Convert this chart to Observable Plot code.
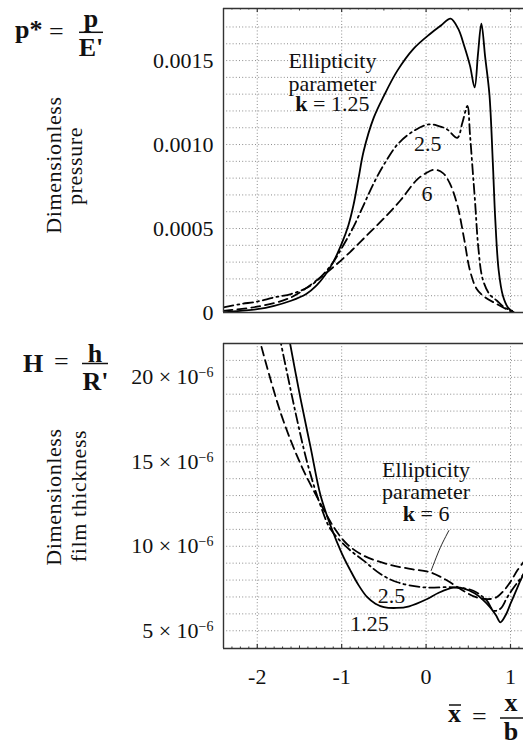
<!DOCTYPE html>
<html><head><meta charset="utf-8">
<script src="https://cdn.jsdelivr.net/npm/d3@7"></script>
<script src="https://cdn.jsdelivr.net/npm/@observablehq/plot@0.6"></script>
<style>
html,body{margin:0;padding:0;background:#fff}
#wrap{position:relative;width:523px;height:745px;overflow:hidden;background:#fff;font-family:"Liberation Serif","Times New Roman",serif}
#wrap svg{position:absolute;left:0}
#wrap svg text{font-family:"Liberation Serif","Times New Roman",serif}
</style></head><body><div id="wrap"></div>
<script>
// ---------- Dimensionless pressure p* vs x̄ ----------
const pX125 = [-2.40,-2.2,-2.0,-1.8,-1.6,-1.42,-1.3,-1.2,-1.1,-1.0,-0.92,-0.86,-0.80,-0.74,-0.62,-0.50,-0.34,-0.15,0.05,0.18,0.29,0.38,0.45,0.52,0.575,0.615,0.655,0.70,0.75,0.79,0.82,0.86,0.91,0.97,1.04];
const pY125 = [0,0.00001,0.00002,0.00004,0.00007,0.00011,0.00016,0.00022,0.00030,0.00041,0.00052,0.00064,0.00080,0.00096,0.00116,0.00129,0.00144,0.00157,0.00166,0.00171,0.00175,0.00169,0.00159,0.00147,0.00134,0.00154,0.00172,0.00152,0.00130,0.00090,0.00055,0.00025,0.00010,0.00003,0];
const pX25 = [-2.40,-2.2,-2.0,-1.8,-1.6,-1.4,-1.25,-1.1,-0.98,-0.86,-0.74,-0.62,-0.50,-0.34,-0.15,0.03,0.15,0.25,0.37,0.43,0.49,0.52,0.55,0.58,0.62,0.67,0.75,0.84,0.93,1.02];
const pY25 = [0.00003,0.00005,0.000065,0.00009,0.00011,0.00015,0.00021,0.00030,0.00040,0.00051,0.00064,0.00077,0.00088,0.00100,0.00108,0.00112,0.00111,0.00109,0.00104,0.00113,0.00123,0.00106,0.00086,0.00066,0.00038,0.00020,0.00011,0.00007,0.00003,0.00001];
const pX6 = [-2.40,-2.0,-1.6,-1.3,-1.1,-0.9,-0.7,-0.5,-0.3,-0.11,0.0,0.1,0.2,0.28,0.37,0.45,0.52,0.60,0.70,0.84,0.95,1.04];
const pY6 = [0.00001,0.000035,0.00009,0.00019,0.00027,0.00036,0.00046,0.00056,0.00067,0.00079,0.00083,0.00085,0.00083,0.00077,0.00064,0.00044,0.00025,0.00014,0.00009,0.00005,0.00002,0];

// ---------- Dimensionless film thickness H (×10⁻⁶) vs x̄ ----------
const hX125 = [-1.63,-1.49,-1.37,-1.25,-1.13,-1.0,-0.9,-0.8,-0.7,-0.6,-0.5,-0.35,-0.2,0.0,0.15,0.32,0.45,0.58,0.68,0.76,0.83,0.88,0.94,1.0,1.06,1.12,1.16];
const hY125 = [22.5,18.8,15.9,13.0,11.2,9.6,8.6,7.7,7.0,6.6,6.4,6.35,6.45,6.85,7.25,7.55,7.5,7.2,6.8,6.38,5.9,5.5,5.9,6.6,7.3,8.0,8.4];
const hX25 = [-1.74,-1.52,-1.4,-1.25,-1.13,-0.93,-0.74,-0.54,-0.34,-0.03,0.33,0.56,0.72,0.80,0.88,0.96,1.03,1.10,1.16];
const hY25 = [22.5,17.3,14.8,12.4,11.0,9.9,9.15,8.36,7.87,7.57,7.57,7.37,6.78,6.19,6.3,6.97,7.5,7.97,8.4];
const hX6 = [-1.95,-1.72,-1.49,-1.29,-1.09,-0.93,-0.74,-0.47,-0.19,0.05,0.25,0.44,0.60,0.76,0.84,0.92,1.0,1.08,1.16];
const hY6 = [21.8,17.85,14.9,12.9,11.1,10.1,9.45,8.96,8.66,8.46,7.97,7.37,6.97,6.88,7.0,7.37,7.9,8.56,9.1];

// ---------- ticks and labels ----------
const pTicks = [0, 0.0005, 0.0010, 0.0015];
const pTickLabels = ["0", "0.0005", "0.0010", "0.0015"];
const hTicks = [5, 10, 15, 20];
const hTickLabels = ["5 × 10", "10 × 10", "15 × 10", "20 × 10"];
const hTickExponent = "−6";
const xTicks = [-2, -1, 0, 1];
const xTickLabels = ["-2", "-1", "0", "1"];

// ---------- annotations ----------
const pNotesX = [-1.11, -1.11, -1.11, 0.02, 0.01];
const pNotesY = [0.001498, 0.001359, 0.001240, 0.001002, 0.000705];
const pNotesT = ["Ellipticity", "parameter", "k = 1.25", "2.5", "6"];
const hNotesX = [0.0, 0.0, 0.0, -0.41, -0.67];
const hNotesY = [14.49, 13.19, 11.92, 7.08, 5.40];
const hNotesT = ["Ellipticity", "parameter", "k = 6", "2.5", "1.25"];
const leaderX = [0.27, 0.17, 0.06];
const leaderY = [10.93, 9.94, 8.56];

const rows = (xs, ys) => xs.map((x, i) => ({x, y: ys[i]}));
const FONT = "'Liberation Serif', 'Times New Roman', serif";
const xDomain = [-2.4, 1.154];
const grid = {stroke: "#8c8c8c", strokeOpacity: 1, strokeWidth: 1, strokeDasharray: "1,2.2"};
const frame = {stroke: "#333", strokeWidth: 1.4};
const minor = d3.range(-24, 12).map(i => i / 10);
const isInt = v => Math.abs(v - Math.round(v)) < 1e-9;
const isHalf = v => !isInt(v) && Math.abs(v * 2 - Math.round(v * 2)) < 1e-9;
const intT = minor.filter(isInt), halfT = minor.filter(isHalf), tenthT = minor.filter(v => !isInt(v) && !isHalf(v));
const lineOpts = {x: "x", y: "y", stroke: "#000", strokeWidth: 1.8, curve: "catmull-rom", clip: true};
const DASHDOT = "10,4,2,4", DASHED = "9,5";
const FS = 22;

// ----- top plot -----
const topH = 330, topMT = 8, topMB = 18, topFH = topH - topMT - topMB;
const topPlot = Plot.plot({
  width: 523, height: topH, marginLeft: 223, marginRight: 0, marginTop: topMT, marginBottom: topMB,
  style: {fontFamily: FONT, fontSize: FS + "px", background: "transparent", color: "#111"},
  x: {domain: xDomain, axis: null},
  y: {domain: [0, 0.00181], axis: null},
  marks: [
    Plot.gridY(d3.range(1, 18).map(i => i * 0.0001), grid),
    Plot.gridX(xTicks, grid),
    Plot.tickX(intT, {stroke: "#333", strokeWidth: 1.2, insetBottom: topFH - 4}),
    Plot.tickX(halfT, {stroke: "#333", strokeWidth: 1, insetBottom: topFH - 2.5}),
    Plot.tickX(tenthT, {stroke: "#333", strokeWidth: 1, insetBottom: topFH - 1.5}),
    Plot.line(rows(pX6, pY6), {...lineOpts, strokeDasharray: DASHED}),
    Plot.line(rows(pX25, pY25), {...lineOpts, strokeDasharray: DASHDOT}),
    Plot.line(rows(pX125, pY125), lineOpts),
    Plot.ruleX([xDomain[0]], frame),
    Plot.ruleY([0, 0.00181], frame),
    Plot.axisY(pTicks, {anchor: "left", tickSize: 0, tickPadding: 10, fontSize: FS, tickFormat: d => pTickLabels[pTicks.indexOf(d)], label: null}),
    Plot.text(pNotesT, {x: (d, i) => pNotesX[i], y: (d, i) => pNotesY[i], text: d => d, fontSize: FS, fill: "#111"})
  ]
});

// ----- bottom plot -----
const botH = 415, botMT = 13, botMB = 97, botFH = botH - botMT - botMB;
const botPlot = Plot.plot({
  width: 523, height: botH, marginLeft: 223, marginRight: 0, marginTop: botMT, marginBottom: botMB,
  style: {fontFamily: FONT, fontSize: FS + "px", background: "transparent", color: "#111"},
  x: {domain: xDomain, axis: null},
  y: {domain: [3.95, 22], axis: null},
  marks: [
    Plot.gridY(d3.range(5, 22), grid),
    Plot.gridX(xTicks, grid),
    Plot.tickX(intT, {stroke: "#333", strokeWidth: 1.2, insetTop: botFH - 4}),
    Plot.tickX(halfT, {stroke: "#333", strokeWidth: 1, insetTop: botFH - 2.5}),
    Plot.tickX(tenthT, {stroke: "#333", strokeWidth: 1, insetTop: botFH - 1.5}),
    Plot.line(rows(hX6, hY6), {...lineOpts, strokeDasharray: DASHED}),
    Plot.line(rows(hX25, hY25), {...lineOpts, strokeDasharray: DASHDOT}),
    Plot.line(rows(hX125, hY125), lineOpts),
    Plot.line(rows(leaderX, leaderY), {x: "x", y: "y", stroke: "#111", strokeWidth: 0.9, curve: "catmull-rom"}),
    Plot.ruleX([xDomain[0]], frame),
    Plot.ruleY([3.95, 22], frame),
    Plot.axisY(hTicks, {anchor: "left", tickSize: 0, tickPadding: 10, fontSize: FS, tickFormat: d => hTickLabels[hTicks.indexOf(d)], label: null}),
    Plot.axisX(xTicks, {anchor: "bottom", tickSize: 0, tickPadding: 20, fontSize: FS, tickFormat: d => xTickLabels[xTicks.indexOf(d)], label: null}),
    Plot.text(hNotesT, {x: (d, i) => hNotesX[i], y: (d, i) => hNotesY[i], text: d => d, fontSize: FS, fill: "#111"})
  ]
});

const wrap = d3.select("#wrap");
wrap.node().append(topPlot);
wrap.node().append(botPlot);
d3.select(topPlot).style("top", "0px");
d3.select(botPlot).style("top", "330px");

// bold "k" in the annotation
[topPlot, botPlot].forEach(svg => {
  d3.select(svg).selectAll("text").filter(function () { return this.textContent.startsWith("k = "); })
    .each(function () {
      const rest = this.textContent.slice(1);
      const t = d3.select(this); t.text(null);
      t.append("tspan").attr("font-weight", "bold").text("k");
      t.append("tspan").text(rest);
    });
});
// exponent on film-thickness tick labels
d3.select(botPlot).selectAll('g[aria-label="y-axis tick label"] text').each(function () {
  d3.select(this).append("tspan").attr("dy", "-0.5em").attr("font-size", "14px").text(hTickExponent);
});

// ---------- overlay text: formulas and axis titles ----------
const ov = wrap.append("svg").attr("width", 523).attr("height", 745).style("top", "0px")
  .style("font-family", FONT).attr("fill", "#111");
function txt(x, y, s, o = {}) {
  const t = ov.append("text").attr("x", x).attr("y", y).attr("font-size", o.size || 26)
    .attr("font-weight", o.bold ? "bold" : "normal").attr("text-anchor", o.anchor || "start").text(s);
  return t;
}
function bar(x1, x2, y) { ov.append("line").attr("x1", x1).attr("x2", x2).attr("y1", y).attr("y2", y).attr("stroke", "#111").attr("stroke-width", 1.5); }
// p* = p / E'
txt(15, 38, "p*", {bold: true});
txt(49, 40, "=");
txt(91, 27, "p", {bold: true, anchor: "middle"});
bar(79, 103, 32.3);
txt(91, 56, "E'", {bold: true, anchor: "middle"});
// H = h / R'
txt(23, 372, "H", {bold: true});
txt(54, 370, "=");
txt(95, 362, "h", {bold: true, anchor: "middle"});
bar(82, 108, 363.5);
txt(95.5, 390, "R'", {bold: true, anchor: "middle"});
// x̄ = x / b
txt(448, 722, "x", {bold: true});
bar(449, 461, 705);
txt(472, 724.5, "=");
txt(511, 711, "x", {bold: true, anchor: "middle"});
bar(500, 523, 718);
txt(511, 740, "b", {bold: true, anchor: "middle"});
// rotated axis titles
function vtxt(x, y, s) {
  ov.append("text").attr("transform", `translate(${x},${y}) rotate(-90)`).attr("text-anchor", "middle")
    .attr("font-size", 22).attr("letter-spacing", "0.6px").text(s);
}
vtxt(61, 165, "Dimensionless");
vtxt(82, 166, "pressure");
vtxt(61, 497, "Dimensionless");
vtxt(86, 496, "film thickness");
</script></body></html>
